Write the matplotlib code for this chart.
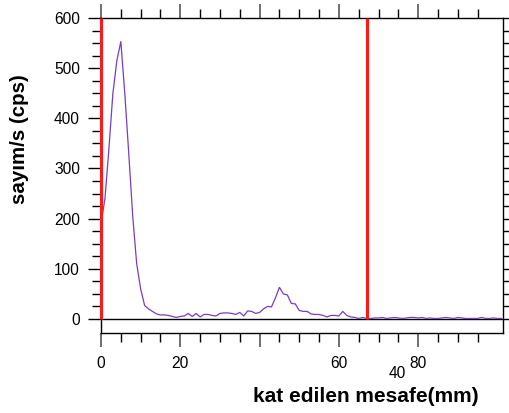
import matplotlib
matplotlib.use('Agg')
import matplotlib.pyplot as plt
from matplotlib.ticker import FixedLocator

plt.rcParams['font.family'] = ['Liberation Sans', 'DejaVu Sans']

# distance (mm) and counts (cps)
distance = list(range(0, 102))
counts = [190, 240, 340, 450, 515, 553, 450, 330, 205, 110,
          60, 27, 20, 15, 10, 8, 8, 7, 5, 3,
          5, 6, 11, 5, 11, 4, 9, 9, 7, 6,
          11, 12, 12, 11, 9, 13, 6, 16, 15, 11,
          13, 20, 25, 24, 42, 63, 50, 48, 31, 30,
          17, 15, 15, 10, 9, 9, 7, 4, 7, 7,
          6, 15, 7, 4, 3, 1, 3, 1, 1, 2,
          2, 3, 1, 2, 3, 2, 1, 2, 3, 3,
          2, 3, 1, 2, 1, 1, 2, 3, 2, 1,
          3, 2, 1, 1, 1, 1, 3, 1, 1, 2,
          1, 1]
markers_x = [0, 67]
x_major = [0, 20, 40, 60, 80]
x_labels = {0: "0", 20: "20", 60: "60", 80: "80"}
y_major = [0, 100, 200, 300, 400, 500, 600]

W, H = 509, 413
PX = 0.72  # points per pixel at 100 dpi
fig = plt.figure(figsize=(W / 100, H / 100), dpi=100)
ax = fig.add_axes([101 / W, (H - 333) / H, (503 - 101) / W, (333 - 18) / H])

ax.plot(distance, counts, color='#7a3cc0', lw=0.9, zorder=3)
ax.axhline(0, color='black', lw=1.0, zorder=2)
for xm in markers_x:
    ax.plot([xm, xm], [0, 600], color='#ff1a1a', lw=2.2, zorder=4,
            solid_capstyle='butt', clip_on=False)

ax.set_xlim(0, 101.4)
ax.set_ylim(-28, 600)

for s in ax.spines.values():
    s.set_linewidth(1.0)

ax.xaxis.set_major_locator(FixedLocator(x_major))
ax.xaxis.set_minor_locator(FixedLocator([v for v in range(0, 100, 5) if v % 20]))
ax.set_xticklabels([x_labels.get(v, "") for v in x_major])
ax.yaxis.set_major_locator(FixedLocator(y_major))
ax.yaxis.set_minor_locator(FixedLocator([v for v in range(0, 601, 25) if v % 100]))

ax.tick_params(axis='both', which='both', direction='out', top=True, right=True,
               labelsize=11.2, colors='black')
ax.tick_params(axis='x', which='major', length=14 * PX, width=1.2, color='#555555',
               pad=9 * PX)
ax.tick_params(axis='x', which='minor', length=9 * PX, width=1.0)
ax.tick_params(axis='y', which='major', length=13 * PX, width=1.0, pad=8 * PX)
ax.tick_params(axis='y', which='minor', length=9 * PX, width=1.0)

# stray "40" label as it appears in the original
fig.text(397 / W, 1 - 374 / H, "40", fontsize=11.2, ha='center', va='center')

fig.text(366 / W, 1 - 397 / H, "kat edilen mesafe(mm)", fontsize=15,
         fontweight='bold', ha='center', va='center')
fig.text(20 / W, 1 - 139 / H, "sayım/s (cps)", fontsize=14.8,
         fontweight='bold', ha='center', va='center', rotation=90)

fig.savefig('out.png', dpi=100)
